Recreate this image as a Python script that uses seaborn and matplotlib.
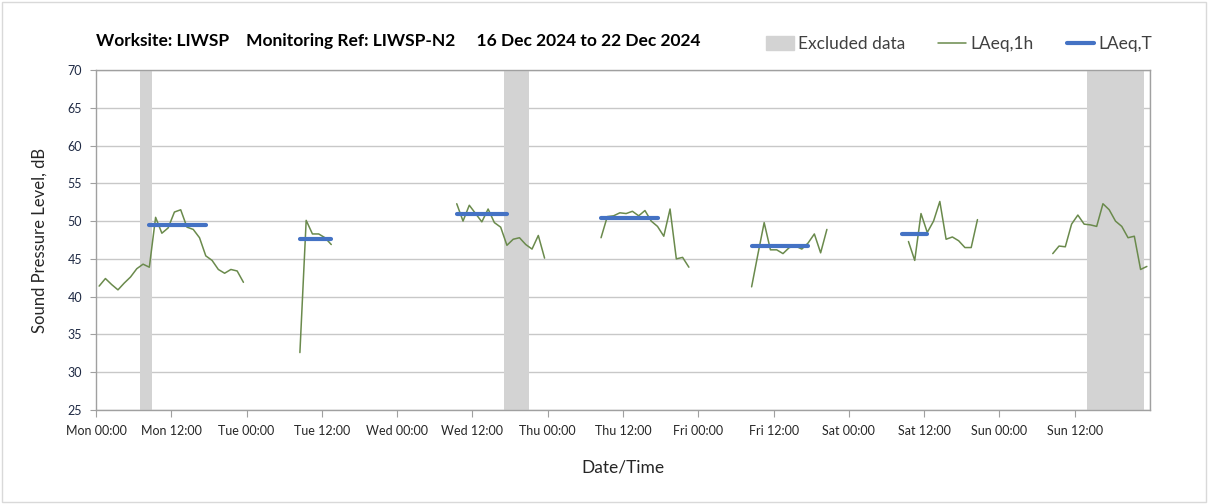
import numpy as np
import pandas as pd
import matplotlib
matplotlib.use("Agg")
import matplotlib.pyplot as plt
import matplotlib.patches as mpatches
from matplotlib.lines import Line2D
import seaborn as sns

# hourly LAeq,1h, one list per monitoring run (start hour from Mon 00:00)
mon_start = 0
mon_laeq = [41.4, 42.4, 41.6, 40.9, 41.8, 42.6, 43.7, 44.3, 43.9, 50.5, 48.4, 49.1,
            51.2, 51.5, 49.2, 48.9, 47.8, 45.4, 44.8, 43.6, 43.1, 43.6, 43.4, 41.9]
tue_start = 32
tue_laeq = [32.6, 50.1, 48.3, 48.3, 47.8, 46.9]
wed_start = 57
wed_laeq = [52.3, 50.0, 52.1, 51.0, 49.9, 51.6, 49.8, 49.2, 46.8, 47.6, 47.8, 46.9,
            46.3, 48.1, 45.1]
thu_start = 80
thu_laeq = [47.8, 50.6, 50.7, 51.1, 51.0, 51.3, 50.7, 51.4, 50.0, 49.3, 48.0, 51.6,
            45.0, 45.2, 43.9]
fri_start = 104
fri_laeq = [41.3, 45.6, 49.8, 46.2, 46.2, 45.7, 46.5, 46.7, 46.3, 47.1, 48.3, 45.8, 48.9]
sat_start = 129
sat_laeq = [47.3, 44.8, 51.0, 48.5, 50.0, 52.6, 47.6, 47.9, 47.4, 46.5, 46.5, 50.2]
sun_start = 152
sun_laeq = [45.7, 46.7, 46.6, 49.6, 50.8, 49.6, 49.5, 49.3, 52.3, 51.5, 50.0, 49.3,
            47.8, 48.0, 43.6, 44.0]

# LAeq,T over each period (first hour, last hour, level)
laeqT_from = [8, 32, 57, 80, 104, 128]
laeqT_to = [17, 37, 65, 89, 113, 132]
laeqT_val = [49.5, 47.6, 50.9, 50.4, 46.7, 48.3]

# excluded periods (hours)
excl_from = [7, 65, 158]
excl_to = [9, 69, 167]

tick_labels = ["Mon 00:00", "Mon 12:00", "Tue 00:00", "Tue 12:00", "Wed 00:00",
               "Wed 12:00", "Thu 00:00", "Thu 12:00", "Fri 00:00", "Fri 12:00",
               "Sat 00:00", "Sat 12:00", "Sun 00:00", "Sun 12:00"]

runs = [(mon_start, mon_laeq), (tue_start, tue_laeq), (wed_start, wed_laeq),
        (thu_start, thu_laeq), (fri_start, fri_laeq), (sat_start, sat_laeq),
        (sun_start, sun_laeq)]
frames = []
for i, (s, vals) in enumerate(runs):
    frames.append(pd.DataFrame({"hour": np.arange(s, s + len(vals)) + 0.5,
                                "laeq": vals, "run": i}))
df = pd.concat(frames, ignore_index=True)

sns.set_style("white")
plt.rcParams["font.family"] = ["Lato", "DejaVu Sans"]

green = "#6a8a4c"
blue = "#4472c4"
grey_band = "#d3d3d3"
grid_c = "#d9d9d9"
text_c = "#262626"

fig = plt.figure(figsize=(12.08, 5.04), dpi=100)
ax = fig.add_axes([96 / 1208, 1 - 410 / 504, (1150 - 96) / 1208, 340 / 504])

for a, b in zip(excl_from, excl_to):
    ax.axvspan(a, b, color=grey_band, lw=0, zorder=1)

sns.lineplot(data=df, x="hour", y="laeq", units="run", estimator=None,
             color=green, lw=1.1, ax=ax, zorder=3, legend=False)

for a, b, v in zip(laeqT_from, laeqT_to, laeqT_val):
    ax.plot([a + 0.5, b + 0.5], [v, v], color=blue, lw=3, solid_capstyle="round", zorder=4)

ax.set_xlim(0, 168)
ax.set_ylim(25, 70)
ax.set_xticks(np.arange(0, 168, 12))
ax.set_xticklabels(tick_labels)
ax.set_xticks(np.arange(0, 169, 24), minor=True)
ax.set_yticks(np.arange(25, 71, 5))
ax.grid(False)
ax.grid(True, which="minor", axis="x", color=grid_c, lw=1)
ax.grid(True, which="major", axis="y", color="#c8c8c8", lw=1)
ax.tick_params(axis="x", which="major", length=5, color="#a0a0a0", labelsize=9,
               labelcolor=text_c, pad=6, direction="out", bottom=True)
ax.tick_params(axis="x", which="minor", length=0)
ax.tick_params(axis="y", length=4, color="#a0a0a0", labelsize=9, labelcolor="#1f2a44",
               pad=6, direction="out", left=True)
for sp in ax.spines.values():
    sp.set_color("#a0a0a0")
    sp.set_linewidth(1)

ax.set_xlabel("Date/Time", fontsize=12.5, color=text_c, labelpad=16)
ax.set_ylabel("Sound Pressure Level, dB", fontsize=12, color=text_c, labelpad=14)

fig.text(96 / 1208, 1 - 41 / 504,
         "Worksite: LIWSP    Monitoring Ref: LIWSP-N2     16 Dec 2024 to 22 Dec 2024",
         fontsize=12.5, fontweight="bold", color="black", va="center", ha="left")

handles = [mpatches.Patch(color=grey_band, label="Excluded data"),
           Line2D([], [], color=green, lw=1.1, label="LAeq,1h"),
           Line2D([], [], color=blue, lw=3, label="LAeq,T")]
fig.legend(handles=handles, loc="center right", bbox_to_anchor=(1168 / 1208, 1 - 44 / 504),
           ncol=3, frameon=False, fontsize=12.5, handlelength=1.6, handleheight=0.8,
           columnspacing=1.9, handletextpad=0.25, labelcolor="#404040")

fig.patches.append(mpatches.Rectangle((2 / 1208, 2 / 504), 1 - 4 / 1208, 1 - 4 / 504,
                                      transform=fig.transFigure, fill=False,
                                      edgecolor="#d9d9d9", lw=1))

fig.savefig("out.png", dpi=100)
